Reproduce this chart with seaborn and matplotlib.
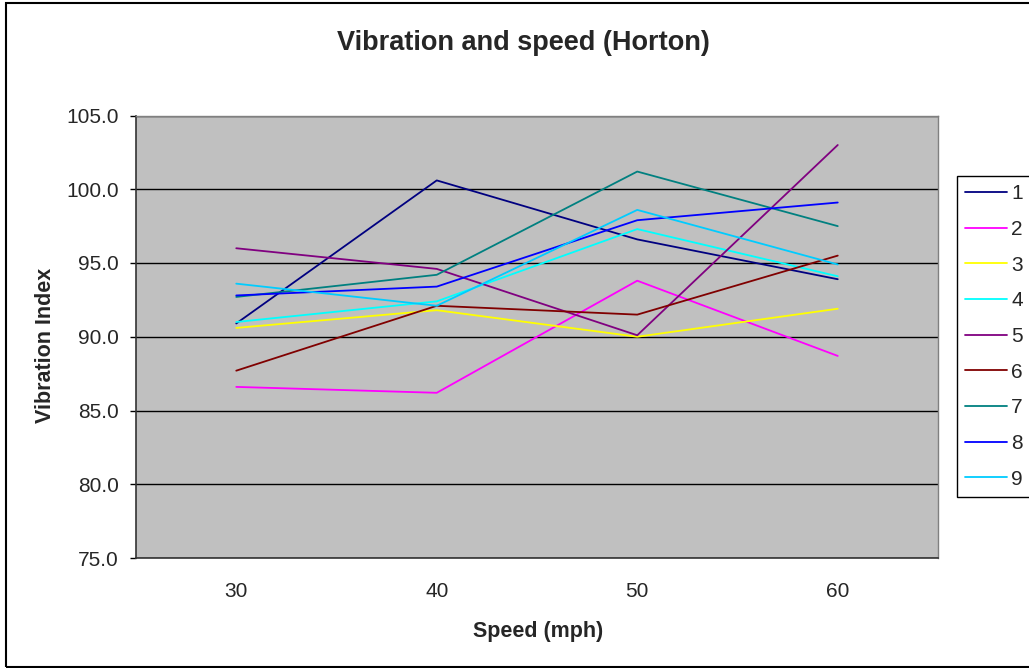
import numpy as np
import matplotlib
matplotlib.use('Agg')
import matplotlib.pyplot as plt
import pandas as pd
import seaborn as sns

speeds = ['30', '40', '50', '60']
s1 = [90.9, 100.6, 96.6, 93.9]
s2 = [86.6, 86.2, 93.8, 88.7]
s3 = [90.6, 91.8, 90.0, 91.9]
s4 = [91.0, 92.4, 97.3, 94.1]
s5 = [96.0, 94.6, 90.1, 103.0]
s6 = [87.7, 92.1, 91.5, 95.5]
s7 = [92.7, 94.2, 101.2, 97.5]
s8 = [92.8, 93.4, 97.9, 99.1]
s9 = [93.6, 92.1, 98.6, 94.9]
series = ['1', '2', '3', '4', '5', '6', '7', '8', '9']
colors = ['#000080', '#FF00FF', '#FFFF00', '#00FFFF', '#800080',
          '#800000', '#008080', '#0000FF', '#00CCFF']

values = [s1, s2, s3, s4, s5, s6, s7, s8, s9]
rows = []
for name, vals in zip(series, values):
    for sp, v in zip(speeds, vals):
        rows.append({'speed': sp, 'vib': v, 'run': name})
df = pd.DataFrame(rows)

sns.set_style('white')
plt.rcParams['font.family'] = ['Liberation Sans', 'DejaVu Sans']

fig = plt.figure(figsize=(10.29, 6.68), dpi=100)
ax = fig.add_axes([136/1029, 1-558/668, (938-136)/1029, (558-115.5)/668])
ax.set_facecolor('#C0C0C0')

sns.lineplot(data=df, x='speed', y='vib', hue='run', palette=colors,
             ax=ax, linewidth=1.3, legend=True)

ax.set_ylim(75, 105)
ax.set_yticks(np.arange(75, 105.1, 5))
ax.set_yticklabels([f'{t:.1f}' for t in np.arange(75, 105.1, 5)])
ax.yaxis.grid(True, color='black', linewidth=1)
ax.set_axisbelow(True)

ax.set_xlim(-0.5, 3.5)
ax.set_xticks(range(4))
ax.set_xticklabels(speeds)
ax.set_xticks(np.arange(-0.5, 3.6, 1), minor=True)
ax.tick_params(axis='x', which='major', length=0, pad=17, labelsize=15)
ax.tick_params(axis='x', which='minor', length=4.5, width=1, color='black', direction='out')
ax.tick_params(axis='y', length=4.5, width=1, color='black', direction='out', pad=8, labelsize=15, left=True)

for side in ['top', 'right']:
    ax.spines[side].set_color('#808080')
    ax.spines[side].set_linewidth(1)
ax.spines['left'].set_color('#333333')
ax.spines['bottom'].set_color('#333333')
ax.spines['left'].set_linewidth(1.2)
ax.spines['bottom'].set_linewidth(1.2)

ax.set_xlabel('')
ax.set_ylabel('')

fig.text(523/1029, 1-43/668, 'Vibration and speed (Horton)', ha='center', va='center',
         fontsize=19.5, fontweight='bold')
fig.text(538/1029, 1-632/668, 'Speed (mph)', ha='center', va='center',
         fontsize=15.5, fontweight='bold')
fig.text(46/1029, 1-345/668, 'Vibration Index', ha='center', va='center',
         fontsize=15.5, fontweight='bold', rotation=90)

handles, labels = ax.get_legend_handles_labels()
ax.legend(handles, labels, loc='upper left', bbox_to_anchor=(957/1029, 1-176/668),
          bbox_transform=fig.transFigure, borderaxespad=0, frameon=True,
          fancybox=False, edgecolor='black', framealpha=1, fontsize=15,
          handlelength=2.0, handletextpad=0.2, labelspacing=0.8,
          borderpad=0.4, title=None)
ax.get_legend().get_frame().set_linewidth(1)

border = plt.Rectangle((6/1029, 0.001), 1.0, 1-4/668, transform=fig.transFigure,
                       fill=False, edgecolor='black', linewidth=1.5)
fig.patches.append(border)

fig.savefig('out.png', dpi=100)
